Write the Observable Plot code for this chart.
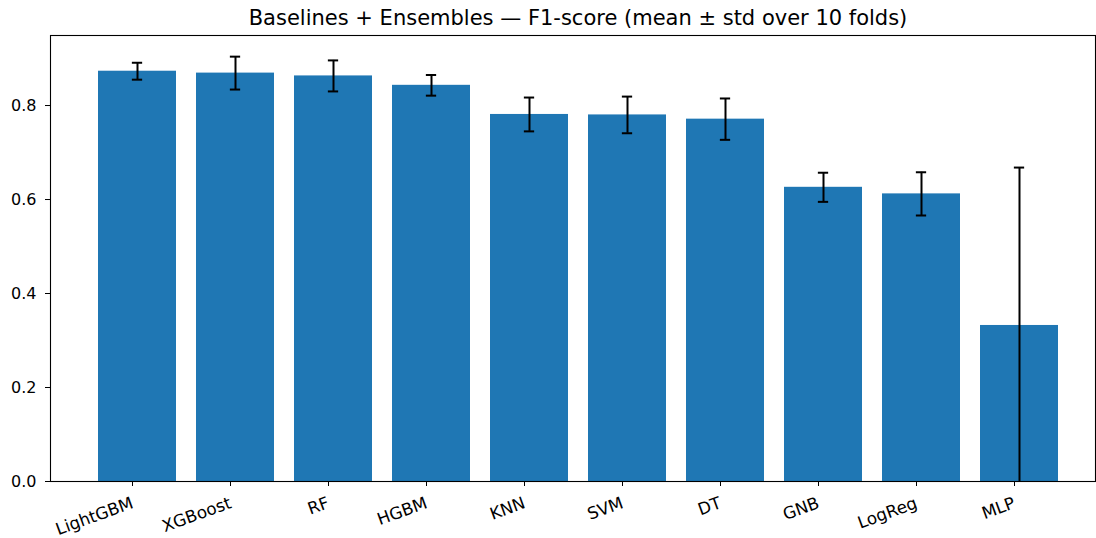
<!DOCTYPE html>
<html><head><meta charset="utf-8">
<script src="https://cdn.jsdelivr.net/npm/d3@7"></script>
<script src="https://cdn.jsdelivr.net/npm/@observablehq/plot@0.6"></script>
<style>body{margin:0;background:#fff;} svg{font-family:"DejaVu Sans";}</style>
</head><body><div id="chart"></div>
<script>
const models = ["LightGBM","XGBoost","RF","HGBM","KNN","SVM","DT","GNB","LogReg","MLP"];
const meanF1 = [0.873,0.869,0.863,0.843,0.781,0.780,0.771,0.626,0.612,0.332];
const stdF1  = [0.018,0.035,0.033,0.022,0.036,0.039,0.044,0.031,0.046,0.336];
const yTicks = [0,0.2,0.4,0.6,0.8];
const title = "Baselines + Ensembles — F1-score (mean ± std over 10 folds)";

const data = models.map((m,i)=>({model:m, mean:meanF1[i], lo:meanF1[i]-stdF1[i], hi:meanF1[i]+stdF1[i]}));
const capInset = (0.8*98.4 - 11)/2;

const chart = Plot.plot({
  width:1096, height:538, marginTop:35, marginBottom:57, marginLeft:50, marginRight:1,
  style:{fontFamily:"DejaVu Sans", fontSize:"16px", background:"white", color:"black"},
  x:{type:"band", domain:models, paddingInner:0.2, paddingOuter:0.41, align:0.57, label:null},
  y:{domain:[0,0.949], label:null},
  marks:[
    Plot.barY(data,{x:"model", y:"mean", fill:"#1f77b4"}),
    Plot.ruleX(data,{x:"model", y1:"lo", y2:"hi", stroke:"black", strokeWidth:2, clip:"frame"}),
    Plot.tickY(data,{x:"model", y:"hi", stroke:"black", strokeWidth:2, insetLeft:capInset, insetRight:capInset, clip:"frame"}),
    Plot.tickY(data,{x:"model", y:"lo", stroke:"black", strokeWidth:2, insetLeft:capInset, insetRight:capInset, clip:"frame"}),
    Plot.frame({stroke:"black", strokeWidth:1.1}),
    Plot.axisY({ticks:yTicks, tickFormat:d3.format(".1f"), tickSize:5, tickPadding:9, label:null, fontSize:16}),
    Plot.axisX({tickRotate:-20, tickSize:5, tickPadding:16, dx:-5, dy:0, label:null, fontSize:16.8}),
    Plot.text([title],{frameAnchor:"top", lineAnchor:"bottom", dy:-11, dx:5, fontSize:21})
  ]
});
document.getElementById("chart").appendChild(chart);
</script>
</body></html>
